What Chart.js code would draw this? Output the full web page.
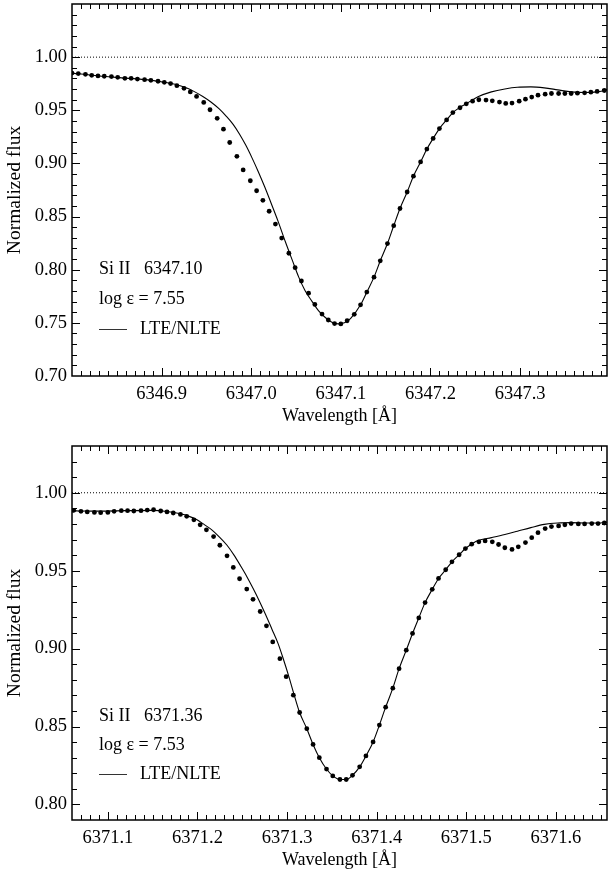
<!DOCTYPE html>
<html lang="en">
<head>
<meta charset="UTF-8">
<title>Si II line profiles</title>
<style>
  html, body { margin: 0; padding: 0; background: #fff; }
  .panel { position: absolute; left: 0; width: 611px; }
  #top { top: 0; height: 430px; }
  #bottom { top: 430px; height: 443px; }
</style>
</head>
<body>
<div class="panel" id="top"><canvas id="chartTop"></canvas></div>
<div class="panel" id="bottom"><canvas id="chartBottom"></canvas></div>

<script src="https://cdn.jsdelivr.net/npm/chart.js"></script>
<script>
// ---- Si II 6347.10 (upper panel) ----
const waveObs1 = [
  6346.800, 6346.807, 6346.815, 6346.822, 6346.829, 6346.836, 6346.844, 6346.851, 6346.859, 6346.866,
  6346.873, 6346.881, 6346.888, 6346.896, 6346.903, 6346.910, 6346.917, 6346.925, 6346.932, 6346.939,
  6346.947, 6346.954, 6346.962, 6346.969, 6346.976, 6346.984, 6346.991, 6346.999, 6347.006, 6347.013,
  6347.020, 6347.027, 6347.034, 6347.042, 6347.049, 6347.056, 6347.064, 6347.071, 6347.079, 6347.086,
  6347.093, 6347.100, 6347.107, 6347.115, 6347.122, 6347.129, 6347.137, 6347.144, 6347.152, 6347.159,
  6347.166, 6347.174, 6347.181, 6347.189, 6347.196, 6347.203, 6347.210, 6347.218, 6347.225, 6347.233,
  6347.240, 6347.247, 6347.254, 6347.262, 6347.269, 6347.277, 6347.284, 6347.291, 6347.299, 6347.306,
  6347.313, 6347.320, 6347.328, 6347.335, 6347.343, 6347.350, 6347.357, 6347.364, 6347.372, 6347.379,
  6347.386, 6347.394
];
const fluxObs1 = [
  0.9850, 0.9845, 0.9838, 0.9829, 0.9823, 0.9820, 0.9817, 0.9810, 0.9801, 0.9801,
  0.9794, 0.9788, 0.9782, 0.9773, 0.9763, 0.9751, 0.9732, 0.9707, 0.9673, 0.9630,
  0.9574, 0.9505, 0.9424, 0.9322, 0.9197, 0.9067, 0.8939, 0.8837, 0.8743, 0.8653,
  0.8550, 0.8429, 0.8298, 0.8155, 0.8019, 0.7894, 0.7779, 0.7673, 0.7583, 0.7527,
  0.7493, 0.7490, 0.7520, 0.7580, 0.7670, 0.7790, 0.7930, 0.8084, 0.8246, 0.8414,
  0.8576, 0.8731, 0.8880, 0.9014, 0.9135, 0.9235, 0.9328, 0.9409, 0.9478, 0.9524,
  0.9561, 0.9586, 0.9599, 0.9596, 0.9589, 0.9577, 0.9565, 0.9568, 0.9586, 0.9605,
  0.9624, 0.9642, 0.9652, 0.9658, 0.9658, 0.9658, 0.9658, 0.9661, 0.9664, 0.9670,
  0.9677, 0.9686
];
const waveModel1 = [
  6346.800, 6346.830, 6346.860, 6346.885, 6346.903, 6346.915, 6346.926, 6346.936, 6346.946, 6346.955,
  6346.964, 6346.972, 6346.980, 6346.987, 6346.994, 6347.001, 6347.008, 6347.015, 6347.022, 6347.030,
  6347.038, 6347.046, 6347.053, 6347.060, 6347.068, 6347.075, 6347.083, 6347.090, 6347.097, 6347.104,
  6347.111, 6347.122, 6347.129, 6347.137, 6347.144, 6347.152, 6347.159, 6347.166, 6347.174, 6347.181,
  6347.189, 6347.196, 6347.203, 6347.210, 6347.218, 6347.225, 6347.233, 6347.240, 6347.253, 6347.268,
  6347.283, 6347.297, 6347.312, 6347.327, 6347.342, 6347.357, 6347.372, 6347.386, 6347.397
];
const fluxModel1 = [
  0.9850, 0.9823, 0.9803, 0.9786, 0.9764, 0.9745, 0.9716, 0.9678, 0.9630, 0.9578,
  0.9515, 0.9445, 0.9365, 0.9275, 0.9170, 0.9050, 0.8920, 0.8780, 0.8630, 0.8455,
  0.8265, 0.8085, 0.7930, 0.7805, 0.7700, 0.7615, 0.7548, 0.7506, 0.7490, 0.7500,
  0.7543, 0.7670, 0.7790, 0.7930, 0.8084, 0.8246, 0.8414, 0.8576, 0.8731, 0.8880,
  0.9014, 0.9135, 0.9235, 0.9328, 0.9409, 0.9478, 0.9528, 0.9562, 0.9627, 0.9673,
  0.9701, 0.9717, 0.9720, 0.9711, 0.9692, 0.9673, 0.9667, 0.9673, 0.9690
];
const xTicks1 = [6346.9, 6347.0, 6347.1, 6347.2, 6347.3];
const yTicks1 = [0.70, 0.75, 0.80, 0.85, 0.90, 0.95, 1.00];

// ---- Si II 6371.36 (lower panel) ----
const waveObs2 = [
  6371.062, 6371.070, 6371.077, 6371.085, 6371.092, 6371.100, 6371.107, 6371.115, 6371.122, 6371.129,
  6371.137, 6371.144, 6371.151, 6371.159, 6371.166, 6371.173, 6371.181, 6371.188, 6371.196, 6371.203,
  6371.210, 6371.218, 6371.225, 6371.233, 6371.240, 6371.247, 6371.255, 6371.262, 6371.270, 6371.277,
  6371.284, 6371.292, 6371.299, 6371.307, 6371.314, 6371.322, 6371.329, 6371.336, 6371.344, 6371.351,
  6371.359, 6371.366, 6371.373, 6371.381, 6371.388, 6371.396, 6371.403, 6371.410, 6371.418, 6371.425,
  6371.433, 6371.440, 6371.447, 6371.454, 6371.462, 6371.469, 6371.477, 6371.484, 6371.492, 6371.499,
  6371.506, 6371.514, 6371.521, 6371.529, 6371.536, 6371.543, 6371.551, 6371.558, 6371.566, 6371.573,
  6371.580, 6371.588, 6371.595, 6371.603, 6371.610, 6371.617, 6371.625, 6371.632, 6371.640, 6371.647,
  6371.654
];
const fluxObs2 = [
  0.9887, 0.9881, 0.9877, 0.9874, 0.9872, 0.9874, 0.9881, 0.9885, 0.9885, 0.9883,
  0.9885, 0.9889, 0.9891, 0.9883, 0.9877, 0.9870, 0.9861, 0.9849, 0.9826, 0.9794,
  0.9762, 0.9719, 0.9663, 0.9595, 0.9521, 0.9448, 0.9382, 0.9316, 0.9238, 0.9146,
  0.9043, 0.8935, 0.8820, 0.8701, 0.8590, 0.8486, 0.8385, 0.8300, 0.8227, 0.8183,
  0.8160, 0.8160, 0.8187, 0.8241, 0.8311, 0.8401, 0.8509, 0.8624, 0.8746, 0.8871,
  0.8990, 0.9097, 0.9197, 0.9295, 0.9380, 0.9450, 0.9506, 0.9557, 0.9602, 0.9642,
  0.9670, 0.9685, 0.9691, 0.9685, 0.9668, 0.9647, 0.9636, 0.9653, 0.9680, 0.9712,
  0.9744, 0.9770, 0.9783, 0.9787, 0.9794, 0.9802, 0.9800, 0.9800, 0.9802, 0.9802,
  0.9806
];
const waveModel2 = [
  6371.062, 6371.090, 6371.120, 6371.150, 6371.166, 6371.181, 6371.190, 6371.199, 6371.208, 6371.216,
  6371.224, 6371.233, 6371.241, 6371.248, 6371.255, 6371.262, 6371.269, 6371.276, 6371.283, 6371.290,
  6371.296, 6371.302, 6371.308, 6371.314, 6371.322, 6371.329, 6371.336, 6371.344, 6371.351, 6371.359,
  6371.366, 6371.373, 6371.381, 6371.388, 6371.396, 6371.403, 6371.410, 6371.418, 6371.425, 6371.433,
  6371.440, 6371.447, 6371.454, 6371.462, 6371.469, 6371.477, 6371.484, 6371.492, 6371.499, 6371.506,
  6371.513, 6371.528, 6371.543, 6371.557, 6371.572, 6371.587, 6371.602, 6371.617, 6371.632, 6371.646,
  6371.658
];
const fluxModel2 = [
  0.9884, 0.9882, 0.9885, 0.9887, 0.9880, 0.9865, 0.9850, 0.9828, 0.9794, 0.9762,
  0.9719, 0.9663, 0.9598, 0.9532, 0.9463, 0.9387, 0.9306, 0.9219, 0.9126, 0.9032,
  0.8930, 0.8820, 0.8701, 0.8590, 0.8486, 0.8385, 0.8300, 0.8227, 0.8183, 0.8160,
  0.8160, 0.8187, 0.8241, 0.8311, 0.8401, 0.8509, 0.8624, 0.8746, 0.8871, 0.8990,
  0.9097, 0.9197, 0.9295, 0.9380, 0.9450, 0.9506, 0.9557, 0.9602, 0.9642, 0.9670,
  0.9693, 0.9712, 0.9732, 0.9753, 0.9776, 0.9797, 0.9806, 0.9808, 0.9806, 0.9806,
  0.9812
];
const xTicks2 = [6371.1, 6371.2, 6371.3, 6371.4, 6371.5, 6371.6];
const yTicks2 = [0.80, 0.85, 0.90, 0.95, 1.00];

const serif = "'Liberation Serif', 'Times New Roman', serif";
Chart.defaults.font.family = serif;
Chart.defaults.color = '#000';

function makePanel(canvasId, p) {
  const obs = p.waveObs.map((w, i) => ({ x: w, y: p.fluxObs[i] }));
  const model = p.waveModel.map((w, i) => ({ x: w, y: p.fluxModel[i] }));
  const continuum = [{ x: p.xMin, y: 1 }, { x: p.xMax, y: 1 }];

  // IDL-style box with inward major/minor ticks on all four sides
  const frame = {
    id: 'frame',
    afterDraw(chart) {
      const { ctx, chartArea: a, scales: { x, y } } = chart;
      ctx.save();
      ctx.strokeStyle = '#000';
      ctx.lineWidth = 1;
      ctx.beginPath();
      for (let k = Math.ceil(y.min * 100 - 1e-6); k <= Math.floor(y.max * 100 + 1e-6); k++) {
        const py = Math.round(y.getPixelForValue(k / 100)) + 0.5;
        if (py < a.top + 2 || py > a.bottom - 2) continue;
        const len = k % 5 === 0 ? 8 : 5;
        ctx.moveTo(a.left, py); ctx.lineTo(a.left + len, py);
        ctx.moveTo(a.right, py); ctx.lineTo(a.right - len, py);
      }
      for (let k = Math.ceil(x.min * 100 - 1e-6); k <= Math.floor(x.max * 100 + 1e-6); k++) {
        const px = Math.round(x.getPixelForValue(k / 100)) + 0.5;
        if (px < a.left + 2 || px > a.right - 2) continue;
        const len = k % 10 === 0 ? 8 : 5;
        ctx.moveTo(px, a.bottom); ctx.lineTo(px, a.bottom - len);
        ctx.moveTo(px, a.top); ctx.lineTo(px, a.top + len);
      }
      ctx.stroke();
      ctx.lineWidth = 1.5;
      ctx.strokeRect(a.left, a.top, a.right - a.left, a.bottom - a.top);
      ctx.restore();
    }
  };

  // line identification, abundance and legend in the lower-left corner
  const notes = {
    id: 'notes',
    afterDraw(chart) {
      const { ctx, chartArea: a } = chart;
      const x0 = a.left + 27;
      const r = p.rows.map(d => a.bottom - d);
      ctx.save();
      ctx.fillStyle = '#000';
      ctx.font = '18px ' + serif;
      ctx.textBaseline = 'middle';
      ctx.fillText('Si II', x0, r[0]);
      ctx.fillText(p.lineLabel, x0 + 45, r[0]);
      ctx.fillText('log ε = ' + p.abund, x0, r[1]);
      ctx.fillText('LTE/NLTE', x0 + 41, r[2]);
      ctx.strokeStyle = '#333';
      ctx.lineWidth = 1;
      ctx.beginPath();
      ctx.moveTo(x0, Math.round(r[2]) + 0.5);
      ctx.lineTo(x0 + 28, Math.round(r[2]) + 0.5);
      ctx.stroke();
      ctx.restore();
    }
  };

  new Chart(document.getElementById(canvasId), {
    type: 'scatter',
    data: {
      datasets: [
        { data: continuum, showLine: true, borderColor: '#000', borderWidth: 1, borderDash: [1, 2], pointRadius: 0 },
        { data: model, showLine: true, borderColor: '#000', borderWidth: 1.1, pointRadius: 0, cubicInterpolationMode: 'monotone' },
        { data: obs, showLine: false, pointRadius: 2.4, pointBackgroundColor: '#000', pointBorderWidth: 0 }
      ]
    },
    options: {
      responsive: true,
      maintainAspectRatio: false,
      animation: false,
      layout: { padding: { top: p.padTop, right: 1, left: 0, bottom: 0 } },
      plugins: { legend: { display: false }, tooltip: { enabled: false } },
      scales: {
        x: {
          type: 'linear', min: p.xMin, max: p.xMax,
          grid: { display: false, drawTicks: false },
          border: { display: false },
          afterBuildTicks: s => { s.ticks = p.xTicks.map(v => ({ value: v })); },
          afterFit: s => { s.height = p.xAxisHeight; s.paddingLeft = 0; s.paddingRight = 0; },
          ticks: { padding: 7, autoSkip: false, maxRotation: 0, font: { size: 18.5 }, callback: v => v.toFixed(1) },
          title: { display: true, text: 'Wavelength [Å]', font: { size: 18 }, padding: { top: 0, bottom: p.titlePad } }
        },
        y: {
          type: 'linear', min: p.yMin, max: p.yMax,
          grid: { display: false, drawTicks: false },
          border: { display: false },
          afterBuildTicks: s => { s.ticks = p.yTicks.map(v => ({ value: v })); },
          afterFit: s => { s.width = 72; s.paddingTop = 0; s.paddingBottom = 0; },
          ticks: { padding: 5, autoSkip: false, font: { size: 18.5 }, callback: v => v.toFixed(2) },
          title: { display: true, text: 'Normalized flux', font: { size: 19.5 }, padding: { top: 3, bottom: 0 } }
        }
      }
    },
    plugins: [frame, notes]
  });
}

makePanel('chartTop', {
  waveObs: waveObs1, fluxObs: fluxObs1, waveModel: waveModel1, fluxModel: fluxModel1,
  xTicks: xTicks1, yTicks: yTicks1,
  xMin: 6346.80, xMax: 6347.397, yMin: 0.70, yMax: 1.05,
  padTop: 1, xAxisHeight: 54, titlePad: 3,
  rows: [107, 77, 47], lineLabel: '6347.10', abund: '7.55'
});

makePanel('chartBottom', {
  waveObs: waveObs2, fluxObs: fluxObs2, waveModel: waveModel2, fluxModel: fluxModel2,
  xTicks: xTicks2, yTicks: yTicks2,
  xMin: 6371.06, xMax: 6371.657, yMin: 0.79, yMax: 1.03,
  padTop: 16, xAxisHeight: 53, titlePad: 2,
  rows: [104, 75, 46], lineLabel: '6371.36', abund: '7.53'
});
</script>
</body>
</html>
